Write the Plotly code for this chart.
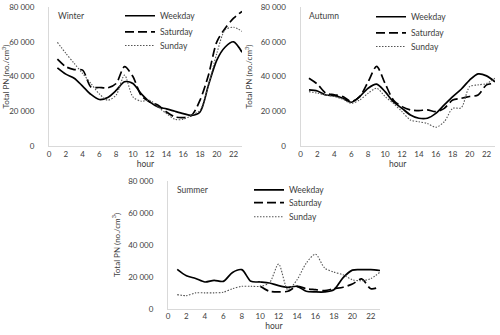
import plotly.graph_objects as go

# hours of the day
hours = list(range(1, 24))

# Winter (no./cm3)
winter_weekday = [45000, 41400, 39000, 34500, 29700, 26800, 28000, 32000, 37000, 36000, 30000, 25400,
                  22500, 21400, 20000, 18700, 17700, 19600, 35000, 49500, 57000, 60000, 54000]
winter_saturday = [50000, 45700, 44000, 43700, 34000, 33700, 33500, 36000, 45700, 40000, 29000, 25400,
                   23500, 19600, 16800, 16400, 17700, 26400, 40800, 60000, 67800, 73600, 77500]
winter_sunday = [59700, 53400, 47600, 41800, 36000, 30000, 26400, 29300, 40800, 28300, 25800, 26400,
                 22500, 18700, 15400, 15400, 17700, 20600, 35000, 53400, 66900, 68400, 66000]

# Autumn
autumn_weekday = [32300, 31700, 29400, 29000, 27500, 25200, 28500, 33300, 35600, 31300, 25400, 21700,
                  17900, 16000, 16000, 18800, 23700, 28500, 32700, 38000, 41500, 40400, 37000]
autumn_saturday = [39000, 35600, 30400, 29500, 28500, 25600, 28500, 37000, 45800, 36000, 26400, 22700,
                   20800, 20400, 20800, 19800, 21700, 26500, 27500, 28500, 29400, 35200, 36000]
autumn_sunday = [31300, 30400, 29400, 28500, 27000, 24600, 26500, 30400, 33300, 28500, 24500, 19800,
                 15000, 14000, 13000, 10800, 14000, 21700, 22000, 34200, 35200, 36000, 39000]

# Summer
summer_weekday = [24700, 20700, 19000, 16800, 17800, 17200, 22800, 24500, 17200, 16800, 16200, 14500,
                  13500, 14100, 11000, 10600, 10600, 12000, 19500, 24200, 24500, 24500, 24000]
summer_saturday = [None, None, None, None, None, None, None, None, None, 14100, 11000, 10600,
                   11000, 14100, 12600, 12000, 11400, 12600, 13500, 15500, 18700, 12600, 13700]
summer_sunday = [8900, 8300, 10000, 10000, 10000, 10400, 12600, 14100, 14100, 14100, 16200, 28000,
                 12000, 18200, 28600, 34200, 25500, 23000, 21300, 18200, 17600, 18900, 23000]

y_ticks = [0, 20000, 40000, 60000, 80000]
y_tick_text = ["0", "20 000", "40 000", "60 000", "80 000"]
x_ticks = list(range(0, 23, 2))

series_names = ["Weekday", "Saturday", "Sunday"]
styles = [dict(color="black", width=1.7, dash="solid"),
          dict(color="black", width=1.7, dash="9px,4px"),
          dict(color="#555555", width=1.1, dash="1.5px,1.5px")]

panels = [
    ("Winter", [winter_weekday, winter_saturday, winter_sunday], [0.098, 0.484], [0.564, 0.979], ""),
    ("Autumn", [autumn_weekday, autumn_saturday, autumn_sunday], [0.601, 0.99], [0.564, 0.979], "2"),
    ("Summer", [summer_weekday, summer_saturday, summer_sunday], [0.336, 0.76], [0.078, 0.46], "3"),
]
# legend placement per panel: left x, and row centres (paper fraction)
legend_x = [0.24, 0.742, 0.498]
legend_rows = [[0.953, 0.905, 0.864], [0.950, 0.902, 0.861], [0.433, 0.395, 0.353]]

fig = go.Figure()
font = "Lato"
txt = "#404040"

for i, (title, data, xdom, ydom, suffix) in enumerate(panels):
    for j, (name, vals, st) in enumerate(zip(series_names, data, styles)):
        k = 3 * i + j + 1
        leg = "legend" if k == 1 else "legend%d" % k
        fig.add_trace(go.Scatter(
            x=hours, y=vals, name=name, mode="lines",
            line=dict(color=st["color"], width=st["width"], dash=st["dash"], shape="spline", smoothing=0.8),
            xaxis="x" + suffix, yaxis="y" + suffix, legend=leg, connectgaps=False))
        fig.layout[leg] = dict(
            x=legend_x[i], y=legend_rows[i][j], xanchor="left", yanchor="middle",
            bgcolor="rgba(0,0,0,0)", font=dict(family=font, size=8.5, color=txt), itemwidth=30)
    axis_common = dict(showgrid=False, zeroline=False, showline=True, linecolor="#d9d9d9", linewidth=1,
                       ticks="", automargin=False, tickfont=dict(family=font, size=8, color=txt))
    fig.layout["xaxis" + suffix] = dict(
        axis_common, domain=xdom, range=[0, 23], tickvals=x_ticks, anchor="y" + suffix,
        title=dict(text="hour", font=dict(family=font, size=8.5, color=txt), standoff=0))
    fig.layout["yaxis" + suffix] = dict(
        axis_common, domain=ydom, range=[0, 80000], tickvals=y_ticks, ticktext=y_tick_text,
        anchor="x" + suffix, ticklabelstandoff=12,
        title=dict(text="Total PN (no./cm<sup>3</sup>)", font=dict(family=font, size=8, color=txt),
                   standoff=6))
    fig.add_annotation(text=title, xref="x" + suffix + " domain", yref="y" + suffix + " domain",
                       x=0.035, y=0.985, xanchor="left", yanchor="top", showarrow=False,
                       font=dict(family=font, size=8.5, color=txt))

fig.update_layout(width=500, height=335, margin=dict(l=0, r=0, t=0, b=0),
                  plot_bgcolor="white", paper_bgcolor="white", showlegend=True)

# page has a default body margin, drop it so the figure sits at the top-left corner
fig.write_html("out.html", config={"displayModeBar": False},
               post_script="document.body.style.margin='0';")
